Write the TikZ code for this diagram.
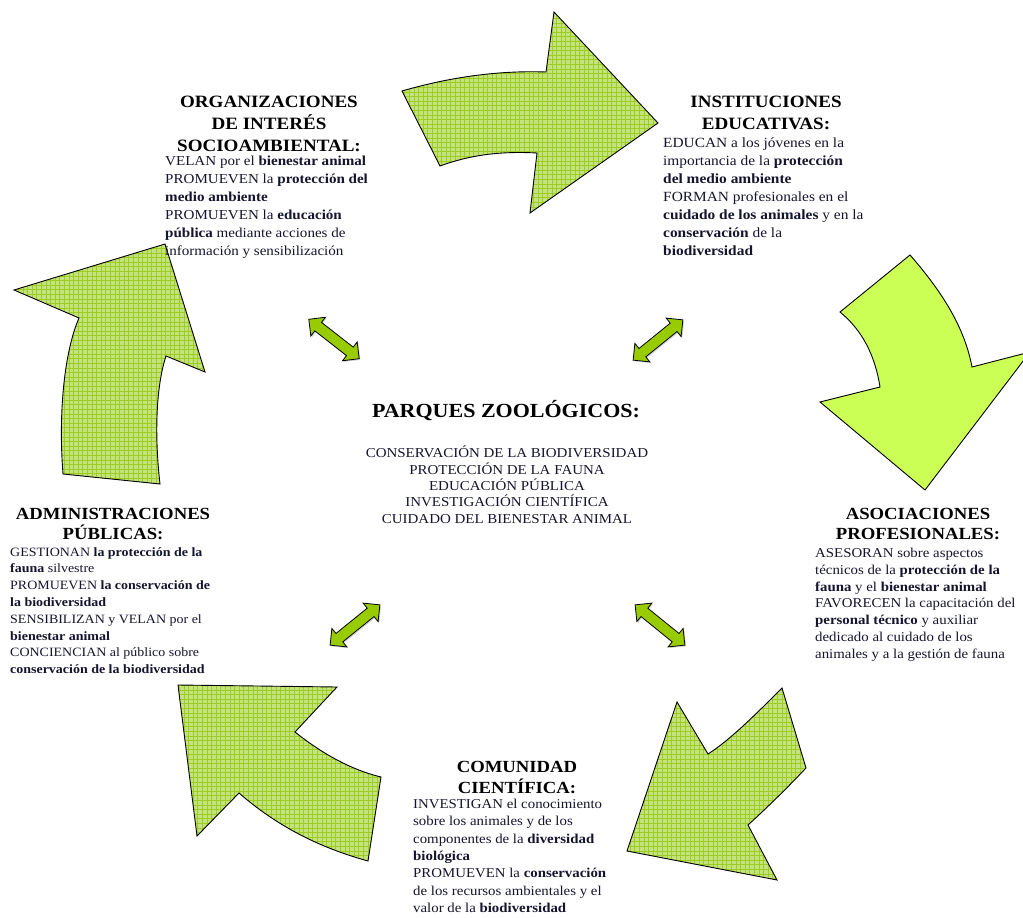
\documentclass[tikz,border=0pt]{standalone}
\usepackage{fontspec}
\setmainfont{Liberation Serif}[FakeStretch=1.1]
\usetikzlibrary{shapes.arrows,shadows}
\definecolor{gridbase}{HTML}{C4E37E}
\definecolor{gridline}{HTML}{9DCD22}
\definecolor{limefill}{HTML}{CCFF55}
\definecolor{darrow}{HTML}{99CC00}
\definecolor{txt}{HTML}{14142E}
\tikzset{
 bigarrow/.style={draw=black, line width=0.9pt, line join=miter},
 dblarrow/.style={shape=double arrow, draw=black, fill=darrow, line width=0.8pt,
   minimum height=64pt, text height=5pt, text depth=5pt, text width=0pt, double arrow head extend=6.5pt, inner sep=0pt,
   drop shadow={shadow xshift=1.2pt, shadow yshift=-1.2pt, opacity=0.35}},
 ttl/.style={align=center, inner sep=0pt, anchor=north, text=black, font=\fontsize{17.3}{22}\selectfont\bfseries},
 body/.style={align=left, inner sep=0pt, anchor=north west, text=txt, font=\fontsize{14}{18}\selectfont},
 bodys/.style={body, font=\fontsize{13.5}{16.8}\selectfont},
}
\newcommand\gridarrow[3]{%
 \fill[gridbase] #1;
 \begin{scope}\clip #1; \draw[gridline, line width=0.85pt, step=4.6pt] #2 grid #3; \end{scope}
 \draw[bigarrow] #1;
}
\begin{document}
\begin{tikzpicture}[x=1pt,y=-1pt]
\useasboundingbox (0,0) rectangle (1023,918);
% top arrow
\gridarrow{(402,91) .. controls (440,80) and (490,70) .. (546,72) -- (554,12) -- (658,123) -- (530,213) -- (537,153) .. controls (500,151) and (470,155) .. (440,166) -- cycle}{(395,5)}{(665,220)}
% right arrow (solid)
\draw[bigarrow, fill=limefill] (910,255) .. controls (945,295) and (965,330) .. (972,367) -- (1030,352) -- (925,490) -- (820,402) -- (880,387) .. controls (875,355) and (862,330) .. (840,312) -- cycle;
% bottom-right arrow
\gridarrow{(782,688) .. controls (755,715) and (730,740) .. (708,754) -- (677,702) -- (627,851) -- (777,880) -- (748,825) .. controls (770,805) and (790,785) .. (806,768) -- cycle}{(620,680)}{(815,890)}
% bottom-left arrow
\gridarrow{(178,685) -- (337,687) -- (295,732) .. controls (330,760) and (360,772) .. (381,777) -- (368,861) .. controls (310,845) and (270,820) .. (239,793) -- (197,836) -- cycle}{(170,680)}{(390,870)}
% left arrow
\gridarrow{(165,244) -- (205,372) -- (166,356) .. controls (155,390) and (155,440) .. (160,484) -- (63,474) .. controls (58,410) and (65,350) .. (79,318) -- (14,290) -- cycle}{(8,238)}{(212,490)}

% double arrows
\node[dblarrow, rotate=-38] (dUL) at (334,339) {};
\node[dblarrow, rotate=39] (dUR) at (658,340) {};
\node[dblarrow, rotate=39] (dLL) at (355,625) {};
\node[dblarrow, rotate=-39] (dLR) at (660,625) {};

% centre
\node[ttl, font=\fontsize{20}{24}\selectfont\bfseries] (zoo) at (506,400) {PARQUES ZOOLÓGICOS:};
\node[ttl, text=txt, font=\fontsize{13.6}{16.3}\selectfont] (zoolist) at (507,446) {CONSERVACIÓN DE LA BIODIVERSIDAD\\PROTECCIÓN DE LA FAUNA\\EDUCACIÓN PÚBLICA\\INVESTIGACIÓN CIENTÍFICA\\CUIDADO DEL BIENESTAR ANIMAL};

% organizaciones
\node[ttl] (orgT) at (269,96) {ORGANIZACIONES\\DE INTERÉS\\SOCIOAMBIENTAL:};
\node[body, font=\fontsize{13.7}{18}\selectfont] (orgB) at (165,156) {VELAN por el \textbf{bienestar animal}\\PROMUEVEN la \textbf{protección del}\\\textbf{medio ambiente}\\PROMUEVEN la \textbf{educación}\\\textbf{pública} mediante acciones de\\información y sensibilización};

% instituciones
\node[ttl] (insT) at (766,96) {INSTITUCIONES\\EDUCATIVAS:};
\node[body] (insB) at (663,138) {EDUCAN a los jóvenes en la\\importancia de la \textbf{protección}\\\textbf{del medio ambiente}\\FORMAN profesionales en el\\\textbf{cuidado de los animales} y en la\\\textbf{conservación} de la\\\textbf{biodiversidad}};

% administraciones
\node[ttl, font=\fontsize{17}{20}\selectfont\bfseries] (admT) at (113,508) {ADMINISTRACIONES\\PÚBLICAS:};
\node[bodys, font=\fontsize{12.7}{16.8}\selectfont] (admB) at (10,547) {GESTIONAN \textbf{la protección de la}\\\textbf{fauna} silvestre\\PROMUEVEN \textbf{la conservación de}\\\textbf{la biodiversidad}\\SENSIBILIZAN y VELAN por el\\\textbf{bienestar animal}\\CONCIENCIAN al público sobre\\\textbf{conservación de la biodiversidad}};

% asociaciones
\node[ttl, font=\fontsize{17}{20}\selectfont\bfseries] (asoT) at (918,508) {ASOCIACIONES\\PROFESIONALES:};
\node[bodys] (asoB) at (815,548) {ASESORAN sobre aspectos\\técnicos de la \textbf{protección de la}\\\textbf{fauna} y el \textbf{bienestar animal}\\FAVORECEN la capacitación del\\\textbf{personal técnico} y auxiliar\\dedicado al cuidado de los\\animales y a la gestión de fauna};

% comunidad
\node[ttl, font=\fontsize{17}{21}\selectfont\bfseries] (comT) at (517,761) {COMUNIDAD\\CIENTÍFICA:};
\node[bodys, font=\fontsize{13.5}{17.3}\selectfont] (comB) at (413,799) {INVESTIGAN el conocimiento\\sobre los animales y de los\\componentes de la \textbf{diversidad}\\\textbf{biológica}\\PROMUEVEN la \textbf{conservación}\\de los recursos ambientales y el\\valor de la \textbf{biodiversidad}};
\end{tikzpicture}
\end{document}
